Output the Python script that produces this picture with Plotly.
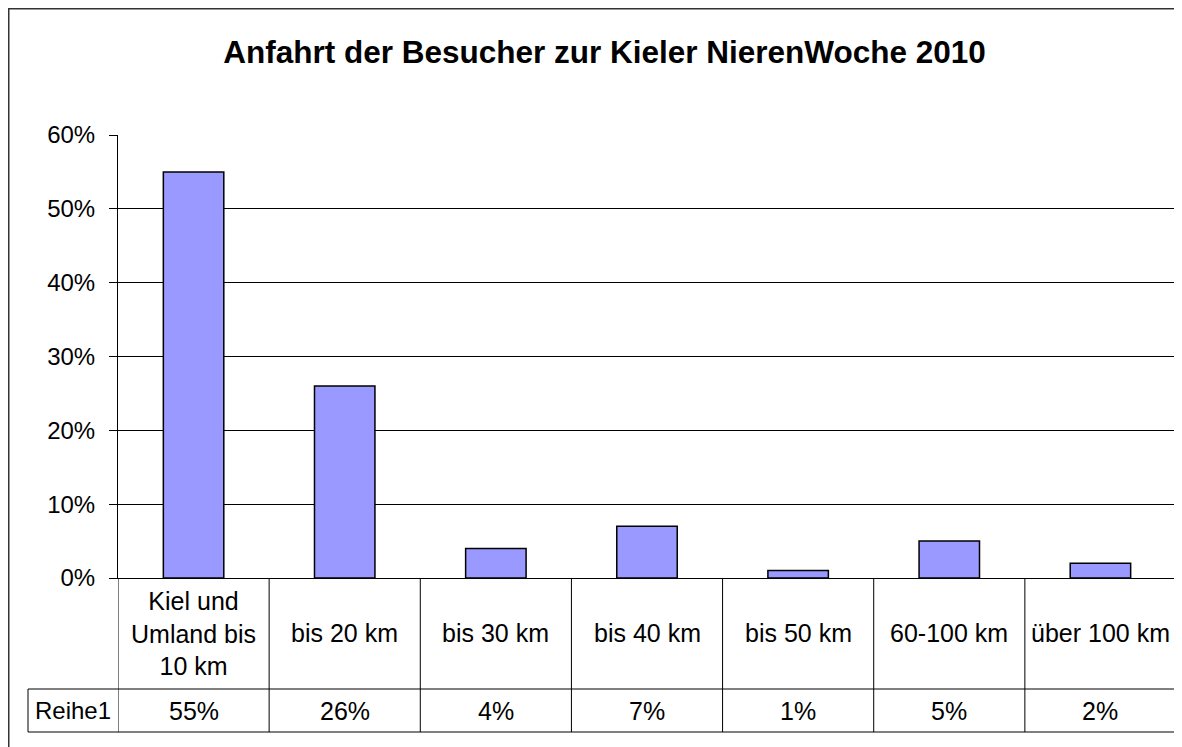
import plotly.graph_objects as go

# Chart data
categories = ["Kiel und<br>Umland bis<br>10 km", "bis 20 km", "bis 30 km", "bis 40 km",
              "bis 50 km", "60-100 km", "über 100 km"]
values = [0.55, 0.26, 0.04, 0.07, 0.01, 0.05, 0.02]
series_name = "Reihe1"
y_ticks = [0, 0.1, 0.2, 0.3, 0.4, 0.5, 0.6]
title_text = "Anfahrt der Besucher zur Kieler NierenWoche 2010"

FONT = "Liberation Sans, Arial, sans-serif"
OFF = 8  # default body margin of the html page
W, H = 1182 - OFF, 747 - OFF
L, R, T, B = 118 - OFF, 6, 135 - OFF, 169
plot_h = H - T - B
plot_w = W - L - R


def py(pix):
    # screen pixel row -> paper y
    return (578 - pix) / plot_h


def px(pix):
    # screen pixel column -> paper x
    return (pix - 118) / plot_w


fig = go.Figure()
fig.add_trace(go.Bar(
    x=categories, y=values, name=series_name,
    marker=dict(color="#9999FF", line=dict(color="black", width=1.5)),
    hoverinfo="x+y",
))

# data table below the plot
row1_bottom = py(689)
row2_bottom = py(732)
table_left = px(28)
line = dict(color="black", width=1)
shapes = []
for i in range(len(categories) + 1):
    shapes.append(dict(type="line", xref="x", yref="paper", x0=i - 0.5, x1=i - 0.5,
                       y0=0, y1=row2_bottom, line=line))
for yy in (row1_bottom, row2_bottom):
    shapes.append(dict(type="line", xref="paper", yref="paper", x0=table_left, x1=1,
                       y0=yy, y1=yy, line=line))
shapes.append(dict(type="line", xref="paper", yref="paper", x0=table_left, x1=table_left,
                   y0=row1_bottom, y1=row2_bottom, line=line))
# chart area border
shapes.append(dict(type="rect", xref="paper", yref="paper", x0=px(OFF + 0.5), x1=px(1200),
                   y0=py(770), y1=py(OFF + 0.5), line=dict(color="#333", width=2)))

annotations = []
for cat, v in zip(categories, values):
    annotations.append(dict(x=cat, xref="x", yref="paper", y=py(633), text=cat,
                            showarrow=False, xanchor="center", yanchor="middle",
                            font=dict(size=25)))
    annotations.append(dict(x=cat, xref="x", yref="paper", y=py(710.5), text=f"{v:.0%}",
                            showarrow=False, xanchor="center", yanchor="middle",
                            font=dict(size=25)))
annotations.append(dict(x=px(73), xref="paper", yref="paper", y=py(710.5), text=series_name,
                        showarrow=False, xanchor="center", yanchor="middle",
                        font=dict(size=24)))

fig.update_layout(
    width=W, height=H,
    margin=dict(l=L, r=R, t=T, b=B),
    paper_bgcolor="white", plot_bgcolor="white",
    font=dict(family=FONT, color="black", size=24),
    title=dict(text=f"<b>{title_text}</b>", x=(604.5 - OFF) / W, y=1 - (52 - OFF) / H,
               xanchor="center", yanchor="middle", font=dict(size=31.5)),
    showlegend=False,
    bargap=0.6,
    shapes=shapes,
    annotations=annotations,
    xaxis=dict(showticklabels=False, showgrid=False, zeroline=False,
               showline=True, linecolor="black", linewidth=1,
               range=[-0.5, len(categories) - 0.5], fixedrange=True),
    yaxis=dict(range=[0, 0.6], tickvals=y_ticks, tickformat=".0%",
               showgrid=True, gridcolor="black", gridwidth=1,
               zeroline=False, showline=True, linecolor="black", linewidth=1,
               ticks="outside", ticklen=8, tickcolor="black",
               ticklabelstandoff=9, automargin=False, fixedrange=True),
)

fig.write_html("out.html")
